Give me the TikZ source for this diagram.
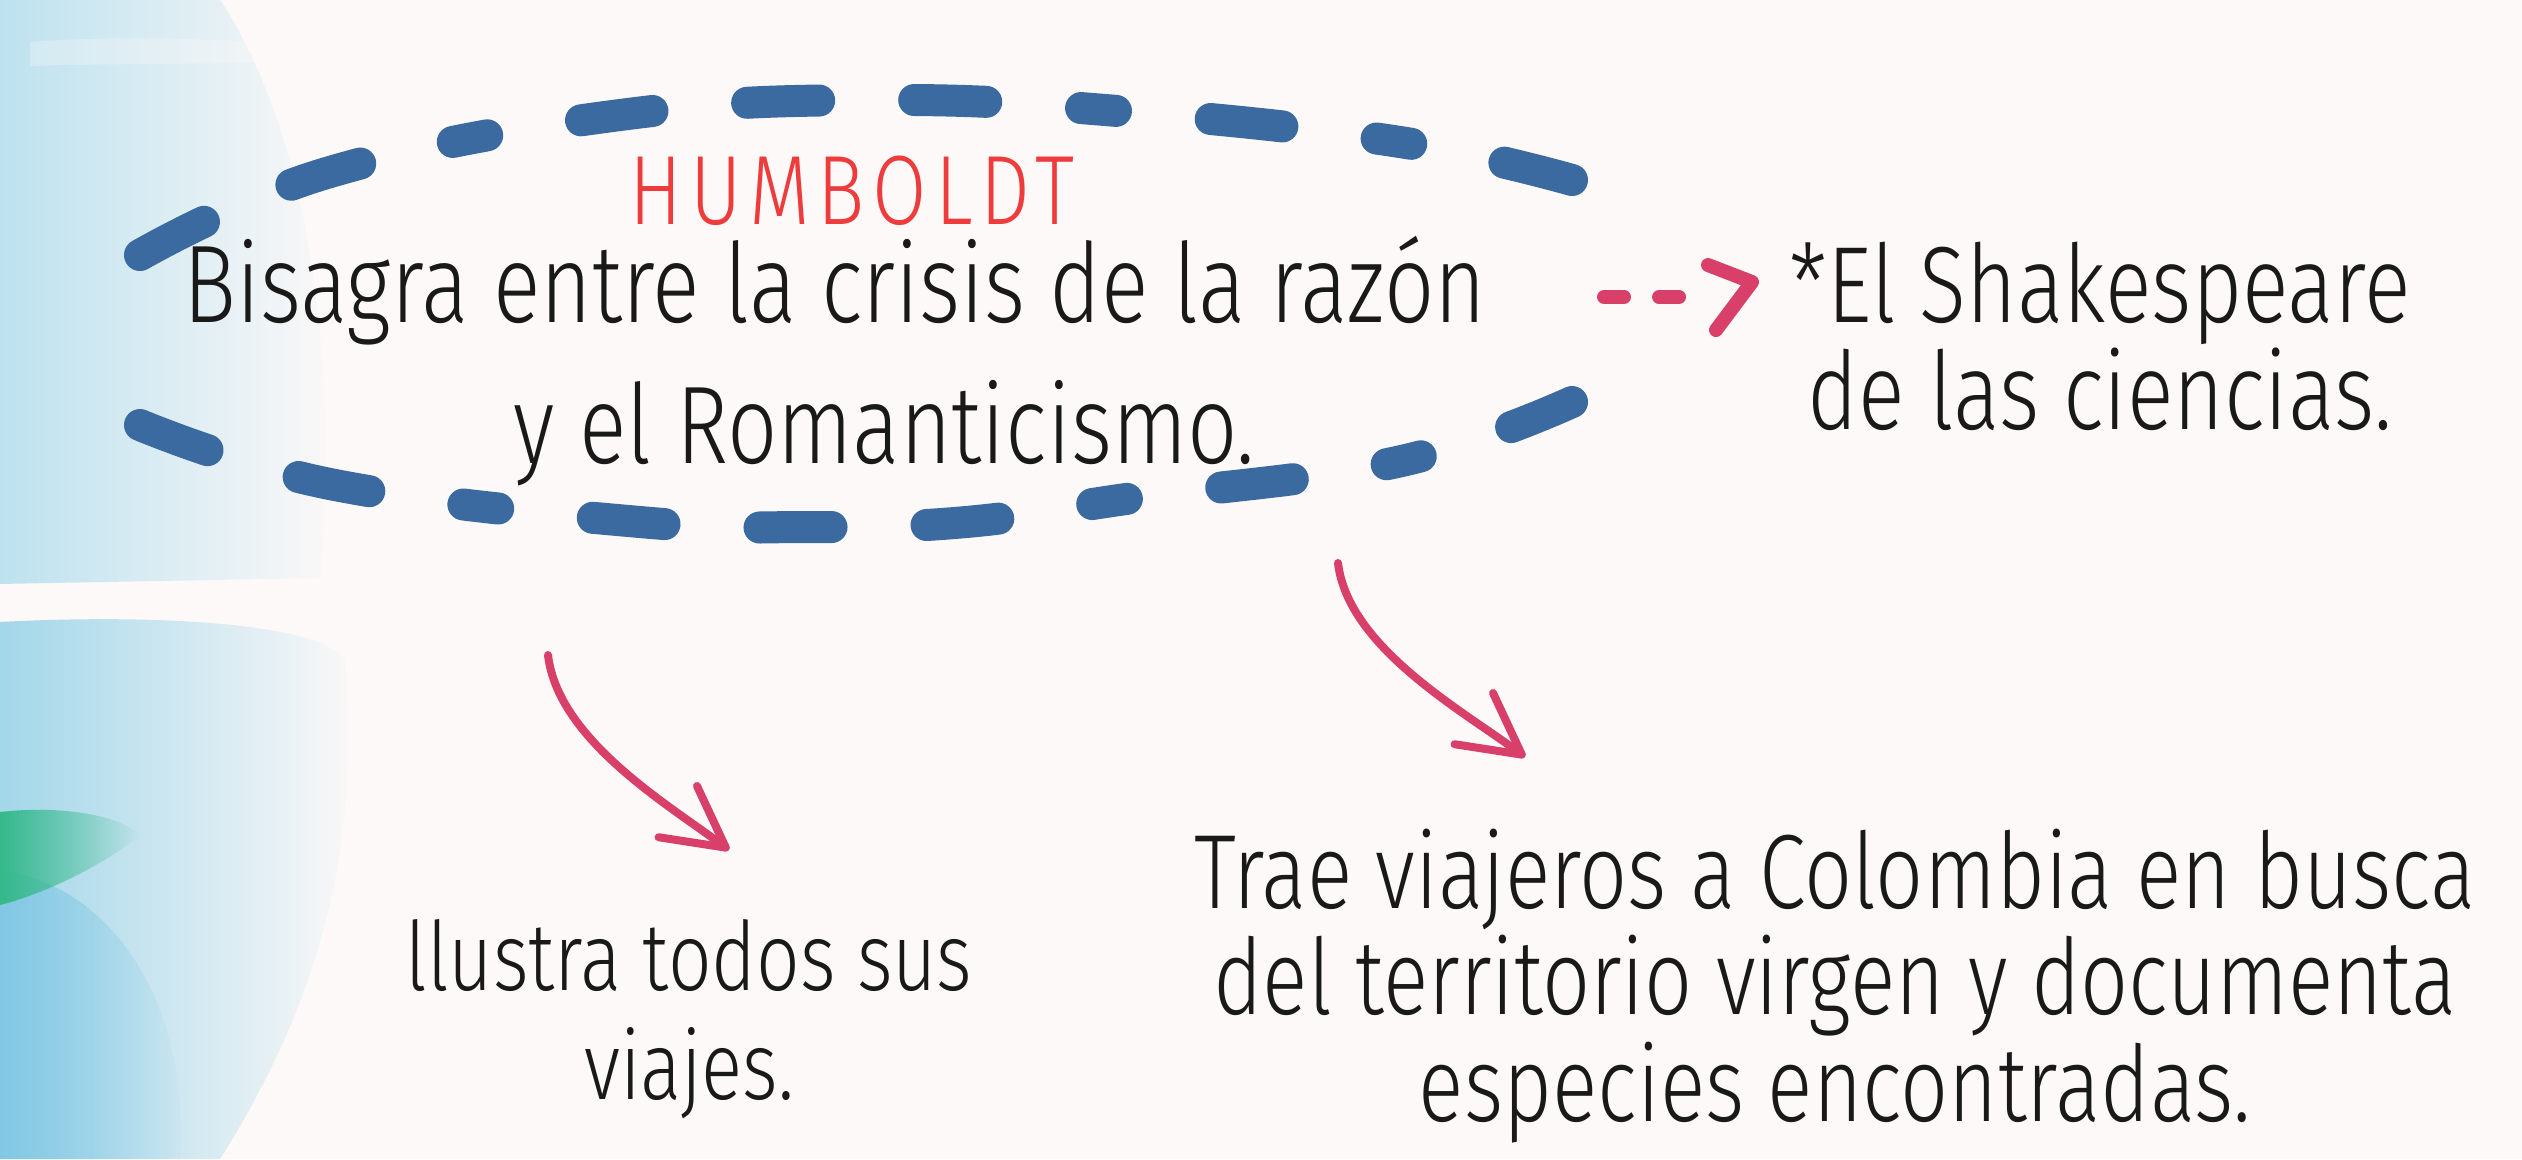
\documentclass[tikz,border=0pt]{standalone}
\usepackage{fontspec}
\setmainfont{Fira Sans Light}[FakeStretch=0.8]
\usetikzlibrary{arrows.meta,positioning,fadings}

\definecolor{paper}{HTML}{FDF9F8}
\definecolor{inkblue}{HTML}{3A6A9F}
\definecolor{arrowred}{HTML}{D8406A}
\definecolor{titlered}{HTML}{EE3B3B}
\definecolor{washblue}{HTML}{BDE2EF}
\definecolor{washmid}{HTML}{A3D7EA}
\definecolor{washdeep}{HTML}{74C2E2}
\definecolor{washgreen}{HTML}{35B98A}

\tikzfading[name=washfade, left color=transparent!0, middle color=transparent!35, right color=transparent!100]

\tikzset{every picture/.style={line width=0.75pt}}
\tikzset{
  lens/.style={draw=inkblue, line width=0.32cm, line cap=round,
    dash pattern={on 0.72cm off 0.95cm on 0.72cm off 0.95cm on 0.35cm off 0.95cm on 0.72cm off 0.95cm on 0.72cm off 0.95cm on 0.72cm off 0.95cm on 0.35cm off 0.95cm on 0.72cm off 0.95cm on 0.35cm off 0.95cm on 0.72cm off 3cm}},
  curvy/.style={draw=arrowred, line width=0.08cm, line cap=round,
    -{Straight Barb[length=0.6cm,width=0.64cm,line width=0.08cm,round]}},
  stub/.style={draw=arrowred, line width=0.14cm, line cap=round, line join=round},
  note/.style={align=center, inner sep=0pt, text=black!90},
}

\begin{document}
\begin{tikzpicture}[x=0.01cm,y=-0.01cm]
\useasboundingbox (0,0) rectangle (2522,1159);
\fill[paper] (0,0) rectangle (2522,1159);

% watercolour wash, left edge
\fill[washblue, path fading=washfade] (0,0) -- (220,0) .. controls (300,120) and (340,330) .. (320,578) -- (0,584) -- cycle;
\fill[paper, opacity=0.3] (30,42) .. controls (150,32) and (330,44) .. (420,56) .. controls (330,66) and (150,62) .. (30,66) -- cycle;
\fill[washmid, path fading=washfade] (0,622) .. controls (150,614) and (320,622) .. (345,660) .. controls (360,850) and (320,1000) .. (220,1159) -- (0,1159) -- cycle;
\fill[washdeep, opacity=0.7, path fading=washfade] (0,870) .. controls (110,885) and (190,1000) .. (180,1159) -- (0,1159) -- cycle;
\fill[washgreen, path fading=washfade] (0,812) .. controls (60,805) and (120,815) .. (140,835) .. controls (100,868) and (40,895) .. (0,905) -- cycle;

% dashed lens round the title
\draw[lens] plot[smooth, tension=0.7] coordinates {(140,255) (330,172) (620,115) (880,100) (1130,112) (1400,142) (1572,180)};
\draw[lens] plot[smooth, tension=0.7] coordinates {(140,425) (335,485) (640,522) (808,527) (966,522) (1133,498) (1397,462) (1572,402)};

% texts
\node[note, text=titlered, font=\fontsize{28}{32}\selectfont\addfontfeatures{LetterSpace=8}] (title) at (852,191) {HUMBOLDT};
\node[note, font=\fontsize{31.4}{40}\selectfont] (hinge) at (835,361) {Bisagra entre la crisis de la razón\\\hspace*{28pt}y el Romanticismo.};
\node[note, font=\fontsize{30.8}{25}\selectfont] (bard) at (2100,336) {*El Shakespeare\\de las ciencias.};
\node[note, font=\fontsize{27.2}{31}\selectfont] (draws) at (689,1019) {llustra todos sus\\viajes.};
\node[note, font=\fontsize{30}{30.4}\selectfont] (brings) at (1835,986) {Trae viajeros a Colombia en busca\\del territorio virgen y documenta\\especies encontradas.};

% connectors
\coordinate (d1) at (548,655);
\coordinate (d2) at (729,850);
\coordinate (b1) at (1338,563);
\coordinate (b2) at (1525,757);
\draw[curvy] (d1) .. controls +(10,85) and +(-60,-45) .. (d2);
\draw[curvy] (b1) .. controls +(10,85) and +(-60,-45) .. (b2);

\coordinate (s0) at (1604,297);
\coordinate (s1) at (1679,297);
\coordinate (h1) at (1708,265);
\coordinate (tip) at (1752,282);
\coordinate (h2) at (1716,330);
\draw[stub, dash pattern=on 0.2cm off 0.35cm] (s0) -- (s1);
\draw[stub] (h1) -- (tip) -- (h2);

\end{tikzpicture}
\end{document}
